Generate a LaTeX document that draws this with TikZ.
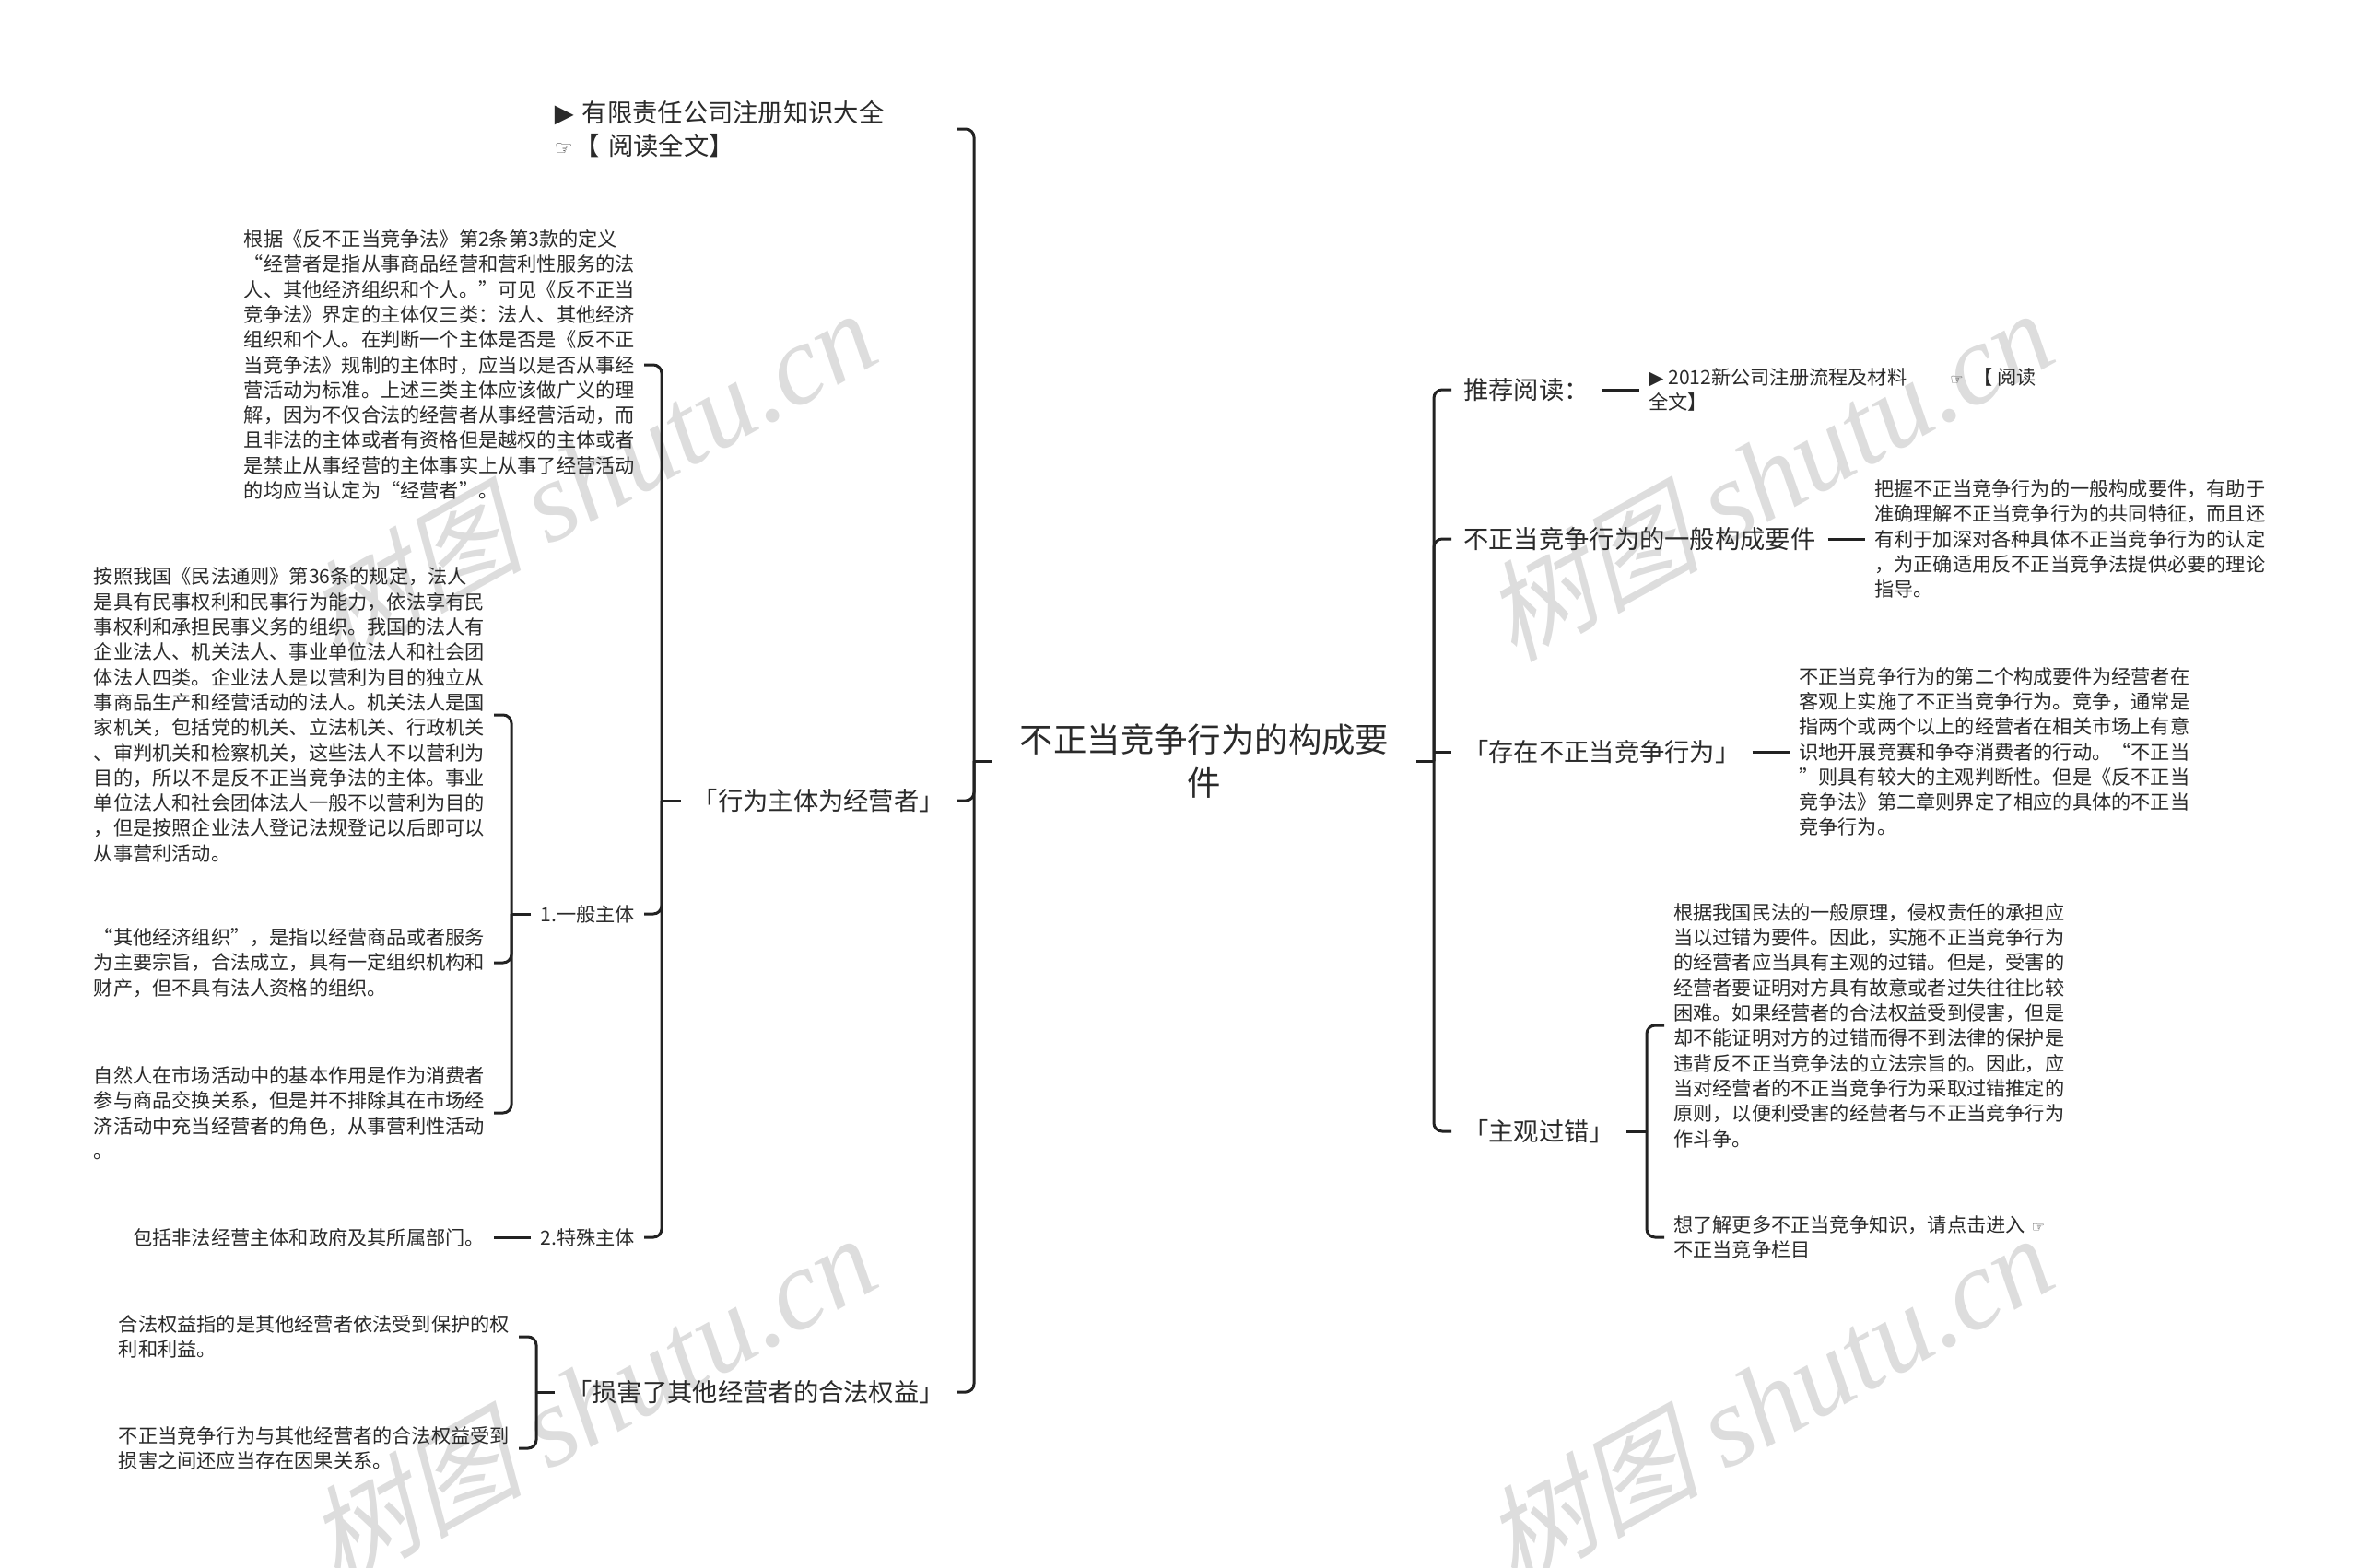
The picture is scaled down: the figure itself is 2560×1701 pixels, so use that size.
\documentclass[tikz,border=0pt]{standalone}
\usepackage{fontspec}
\setmainfont{Noto Sans CJK SC}
\newfontfamily\symfont{DejaVu Sans}
\newfontfamily\wmcjk{Noto Sans CJK SC}[FakeSlant=0.25]
\newfontfamily\wmlatin{Liberation Serif}[ItalicFont={Liberation Serif Italic}]
\definecolor{inkline}{HTML}{222222}
\definecolor{inktext}{HTML}{2A2A2A}
\definecolor{wmgray}{HTML}{DDDDDD}
\newcommand{\wmtext}{{\wmcjk 树图} {\fontsize{124}{124}\selectfont\wmlatin\itshape shutu.cn}}
\tikzset{
    titlenode/.style={inner xsep=13pt, inner ysep=0pt, align=center, text=inktext, text width=434pt, font=\fontsize{36.4}{47}\selectfont},
    branch/.style={inner xsep=13pt, inner ysep=0pt, text=inktext, font=\fontsize{27.3}{36}\selectfont},
    body/.style={inner xsep=10pt, inner ysep=0pt, align=left, text=inktext, font=\fontsize{21.2}{27.3}\selectfont},
    link/.style={draw=inkline, line width=3pt},
    elbow/.style={link, rounded corners=9pt},
    wmark/.style={text=wmgray, rotate=29, inner sep=0pt, font=\fontsize{118}{118}\selectfont}
}
\begin{document}
\begin{tikzpicture}[x=1pt, y=-1pt]
    \useasboundingbox (0,0) rectangle (2560,1701);

    % Watermarks
    \node[wmark] (wm1) at (641,516) {\wmtext};
    \node[wmark] (wm2) at (1918,516) {\wmtext};
    \node[wmark] (wm3) at (641,1520) {\wmtext};
    \node[wmark] (wm4) at (1918,1520) {\wmtext};

    % Root
    \node[titlenode] (root) at (1307,826) {不正当竞争行为的构成要\\件};
    \coordinate (hubL) at (1057,826);
    \coordinate (hubR) at (1556,826);

    % Left branches
    \node[body, anchor=east, text width=426pt, font=\fontsize{27.3}{36}\selectfont] (readall) at (1038,140) {{\symfont ▶} 有限责任公司注册知识大全\\\makebox[22pt][l]{\fontsize{22}{36}\selectfont\symfont ☞}【 阅读全文】};
    \node[branch, anchor=east] (actor) at (1038,869) {「行为主体为经营者」};
    \node[branch, anchor=east] (harm) at (1038,1511) {「损害了其他经营者的合法权益」};
    \coordinate (hubActor) at (718,869);
    \coordinate (hubHarm) at (582,1511);

    % Children of the actor branch
    \node[body, anchor=east, text width=424pt] (define) at (699,396) {根据《反不正当竞争法》第2条第3款的定义\\“经营者是指从事商品经营和营利性服务的法\\人、其他经济组织和个人。”可见《反不正当\\竞争法》界定的主体仅三类：法人、其他经济\\组织和个人。在判断一个主体是否是《反不正\\当竞争法》规制的主体时，应当以是否从事经\\营活动为标准。上述三类主体应该做广义的理\\解，因为不仅合法的经营者从事经营活动，而\\且非法的主体或者有资格但是越权的主体或者\\是禁止从事经营的主体事实上从事了经营活动\\的均应当认定为“经营者”。};
    \node[body, anchor=east] (general) at (699,992) {1.一般主体};
    \node[body, anchor=east] (special) at (699,1343) {2.特殊主体};
    \coordinate (hubGeneral) at (555,992);

    % Children of the general subject
    \node[body, anchor=east, text width=424pt] (legal) at (536,776) {按照我国《民法通则》第36条的规定，法人\\是具有民事权利和民事行为能力，依法享有民\\事权利和承担民事义务的组织。我国的法人有\\企业法人、机关法人、事业单位法人和社会团\\体法人四类。企业法人是以营利为目的独立从\\事商品生产和经营活动的法人。机关法人是国\\家机关，包括党的机关、立法机关、行政机关\\、审判机关和检察机关，这些法人不以营利为\\目的，所以不是反不正当竞争法的主体。事业\\单位法人和社会团体法人一般不以营利为目的\\，但是按照企业法人登记法规登记以后即可以\\从事营利活动。};
    \node[body, anchor=east, text width=424pt] (other) at (536,1045) {“其他经济组织”，是指以经营商品或者服务\\为主要宗旨，合法成立，具有一定组织机构和\\财产，但不具有法人资格的组织。};
    \node[body, anchor=east, text width=424pt] (natural) at (536,1208) {自然人在市场活动中的基本作用是作为消费者\\参与商品交换关系，但是并不排除其在市场经\\济活动中充当经营者的角色，从事营利性活动\\。};
    \node[body, anchor=east] (illegal) at (536,1343) {包括非法经营主体和政府及其所属部门。};

    % Children of the harm branch
    \node[body, anchor=east, text width=424pt] (rights) at (563,1451) {合法权益指的是其他经营者依法受到保护的权\\利和利益。};
    \node[body, anchor=east, text width=424pt] (cause) at (563,1572) {不正当竞争行为与其他经营者的合法权益受到\\损害之间还应当存在因果关系。};

    % Right branches
    \node[branch, anchor=west] (recommend) at (1575,423) {推荐阅读：};
    \node[branch, anchor=west] (elements) at (1575,585) {不正当竞争行为的一般构成要件};
    \node[branch, anchor=west] (exists) at (1575,816) {「存在不正当竞争行为」};
    \node[branch, anchor=west] (fault) at (1575,1228) {「主观过错」};
    \coordinate (hubFault) at (1787,1228);

    % Children of the right branches
    \node[body, anchor=west] (newco) at (1779,423) {{\symfont ▶} 2012新公司注册流程及材料\hspace{47pt}\makebox[25pt][l]{\fontsize{16}{27.3}\selectfont\symfont ☞}【 阅读\\全文】};
    \node[body, anchor=west, text width=424pt] (grasp) at (2024,585) {把握不正当竞争行为的一般构成要件，有助于\\准确理解不正当竞争行为的共同特征，而且还\\有利于加深对各种具体不正当竞争行为的认定\\，为正确适用反不正当竞争法提供必要的理论\\指导。};
    \node[body, anchor=west, text width=424pt] (second) at (1942,816) {不正当竞争行为的第二个构成要件为经营者在\\客观上实施了不正当竞争行为。竞争，通常是\\指两个或两个以上的经营者在相关市场上有意\\识地开展竞赛和争夺消费者的行动。“不正当\\”则具有较大的主观判断性。但是《反不正当\\竞争法》第二章则界定了相应的具体的不正当\\竞争行为。};
    \node[body, anchor=west, text width=424pt] (civil) at (1806,1113) {根据我国民法的一般原理，侵权责任的承担应\\当以过错为要件。因此，实施不正当竞争行为\\的经营者应当具有主观的过错。但是，受害的\\经营者要证明对方具有故意或者过失往往比较\\困难。如果经营者的合法权益受到侵害，但是\\却不能证明对方的过错而得不到法律的保护是\\违背反不正当竞争法的立法宗旨的。因此，应\\当对经营者的不正当竞争行为采取过错推定的\\原则，以便利受害的经营者与不正当竞争行为\\作斗争。};
    \node[body, anchor=west, text width=424pt] (more) at (1806,1343) {想了解更多不正当竞争知识，请点击进入 {\fontsize{16}{27.3}\selectfont\symfont ☞}\\不正当竞争栏目};

    % Draw connections
    \draw[link] (root.west) -- (hubL);
    \draw[link] (root.east) -- (hubR);
    \draw[elbow] (hubL) |- (readall.east);
    \draw[elbow] (hubL) |- (actor.east);
    \draw[elbow] (hubL) |- (harm.east);
    \draw[elbow] (hubR) |- (recommend.west);
    \draw[elbow] (hubR) |- (elements.west);
    \draw[link] (hubR |- exists.west) -- (exists.west);
    \draw[elbow] (hubR) |- (fault.west);
    \draw[link] (actor.west) -- (hubActor);
    \draw[elbow] (hubActor) |- (define.east);
    \draw[elbow] (hubActor) |- (general.east);
    \draw[elbow] (hubActor) |- (special.east);
    \draw[link] (general.west) -- (hubGeneral);
    \draw[elbow] (hubGeneral) |- (legal.east);
    \draw[elbow] (hubGeneral) |- (other.east);
    \draw[elbow] (hubGeneral) |- (natural.east);
    \draw[link] (special.west) -- (illegal.east);
    \draw[link] (harm.west) -- (hubHarm);
    \draw[elbow] (hubHarm) |- (rights.east);
    \draw[elbow] (hubHarm) |- (cause.east);
    \draw[link] (recommend.east) -- (newco.west);
    \draw[link] (elements.east) -- (grasp.west);
    \draw[link] (exists.east) -- (second.west);
    \draw[link] (fault.east) -- (hubFault);
    \draw[elbow] (hubFault) |- (civil.west);
    \draw[elbow] (hubFault) |- (more.west);
\end{tikzpicture}
\end{document}
